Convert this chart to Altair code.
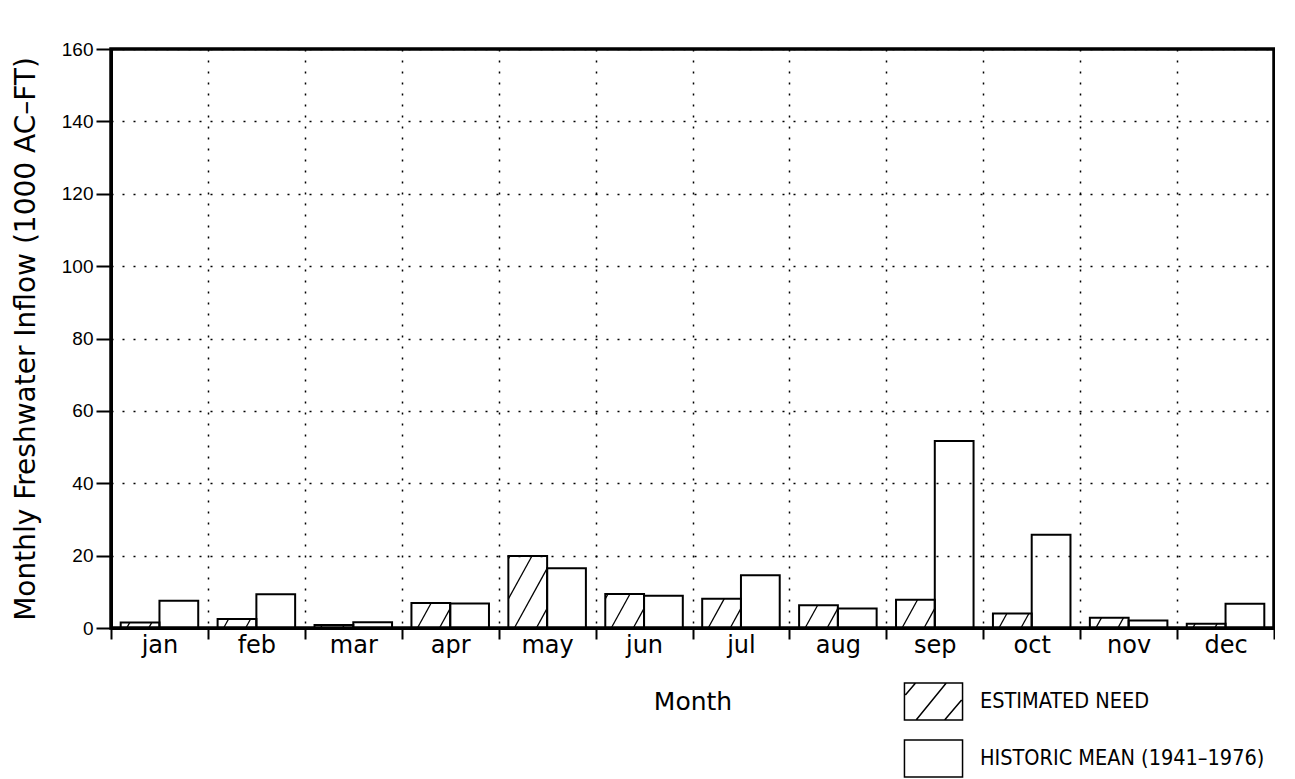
import altair as alt
import pandas as pd
import numpy as np

months = ["jan", "feb", "mar", "apr", "may", "jun", "jul", "aug", "sep", "oct", "nov", "dec"]
estimated_need = [1.5, 2.5, 0.8, 6.9, 19.9, 9.4, 8.1, 6.3, 7.8, 4.0, 2.8, 1.2]
historic_mean = [7.5, 9.3, 1.6, 6.8, 16.5, 8.9, 14.6, 5.4, 51.7, 25.8, 2.1, 6.7]
series_names = ["ESTIMATED NEED", "HISTORIC MEAN (1941\u20131976)"]

W, H = 1163, 579
YMAX = 160
PX_X = W / 12.0
PX_Y = H / float(YMAX)

# bar layout within each month band (fractions of band)
est_x = (0.10, 0.50)
hist_x = (0.50, 0.90)

rows = []
for i, m in enumerate(months):
    rows.append({"month": m, "series": series_names[0], "x0": i + est_x[0], "x1": i + est_x[1], "v": estimated_need[i]})
    rows.append({"month": m, "series": series_names[1], "x0": i + hist_x[0], "x1": i + hist_x[1], "v": historic_mean[i]})
bars_df = pd.DataFrame(rows)

# hatch segments for estimated-need bars, derived from the bar extents via the scale factors
SLOPE = 0.55   # dx/dy in pixels
SPACING = 22.0
PHASE = 6.0
hatch = []
for i, v in enumerate(estimated_need):
    L = (i + est_x[0]) * PX_X
    R = (i + est_x[1]) * PX_X
    T = v * PX_Y
    kmin = int(np.floor(-(T * SLOPE + PHASE) / SPACING)) - 1
    kmax = int(np.ceil((R - L) / SPACING)) + 1
    for k in range(kmin, kmax + 1):
        b = L + PHASE + SPACING * k
        ylo = max(0.0, (L - b) / SLOPE)
        yhi = min(T, (R - b) / SLOPE)
        if yhi - ylo > 0.5:
            hatch.append({
                "hx0": (b + SLOPE * ylo) / PX_X, "hy0": ylo / PX_Y,
                "hx1": (b + SLOPE * yhi) / PX_X, "hy1": yhi / PX_Y,
            })
hatch_df = pd.DataFrame(hatch)

label_expr = "[" + ",".join("'%s'" % m for m in months) + "][datum.value] || ''"

xscale = alt.Scale(domain=[0, 12], nice=False, zero=False)
yscale = alt.Scale(domain=[0, YMAX], nice=False)

x_axis = alt.Axis(
    values=list(range(13)), labelExpr=label_expr, labelOffset=PX_X / 2, labelFlush=False,
    title="Month", tickSize=11, labelPadding=-6, titlePadding=32,
    grid=True,
)
y_axis = alt.Axis(
    values=list(range(0, YMAX + 1, 20)), title="Monthly Freshwater Inflow (1000 AC\u2013FT)",
    tickSize=15, labelPadding=3, titlePadding=21, grid=True, labelFlush=False,
)

bars = alt.Chart(bars_df).mark_rect(
    fillOpacity=0, stroke="black", strokeWidth=2
).encode(
    x=alt.X("x0:Q", scale=xscale, axis=x_axis),
    x2="x1:Q",
    y=alt.Y("v:Q", scale=yscale, axis=y_axis),
    y2=alt.Y2(datum=0),
)

hatch_lines = alt.Chart(hatch_df).mark_rule(color="black", strokeWidth=1.3).encode(
    x=alt.X("hx0:Q", scale=xscale),
    x2="hx1:Q",
    y=alt.Y("hy0:Q", scale=yscale),
    y2="hy1:Q",
)

# legend symbols: 58x37 px boxes drawn with symbol size 37^2 (unit = 18.5 px)
rect_path = "M-1.57,-1H1.57V1H-1.57Z"
hatch_path = rect_path + "M-1.52,-0.35L-0.97,-1M-0.94,1L0.69,-1M0.6,1L1.52,-0.08"

legend_layer = alt.Chart(bars_df).transform_filter("false").mark_point(
    color="black", filled=False, strokeWidth=1.5
).encode(
    x=alt.X("x0:Q", scale=xscale),
    y=alt.Y("v:Q", scale=yscale),
    shape=alt.Shape(
        "series:N",
        scale=alt.Scale(domain=series_names, range=[hatch_path, rect_path]),
        legend=alt.Legend(
            title=None, orient="none", legendX=803, legendY=633, padding=0,
            symbolSize=1369, symbolStrokeColor="black", symbolStrokeWidth=1.5,
            symbolFillColor="transparent", symbolOpacity=1,
            labelFont="DejaVu Sans Condensed", labelFontSize=21.5, labelColor="black",
            labelOffset=27, rowPadding=14, labelLimit=400,
        ),
    ),
)

chart = alt.layer(bars, hatch_lines, legend_layer).properties(
    width=W, height=H, padding={"left": 4, "top": 32, "right": 0, "bottom": 0},
    background="white",
).configure_view(
    stroke="black", strokeWidth=3.5
).configure_axis(
    domainColor="black", domainWidth=3, tickColor="black", tickWidth=2,
    gridColor="black", gridDash=[2, 9], gridWidth=1.5, gridOpacity=1,
    labelColor="black", titleColor="black", titleFontWeight="normal",
).configure_axisY(
    labelFont="Liberation Sans", labelFontSize=19,
    titleFont="DejaVu Sans", titleFontSize=28,
).configure_axisX(
    labelFont="DejaVu Sans", labelFontSize=24, labelBaseline="top",
    titleFont="DejaVu Sans", titleFontSize=25,
)

chart.save("out.html", embed_options={"renderer": "svg", "actions": False})
